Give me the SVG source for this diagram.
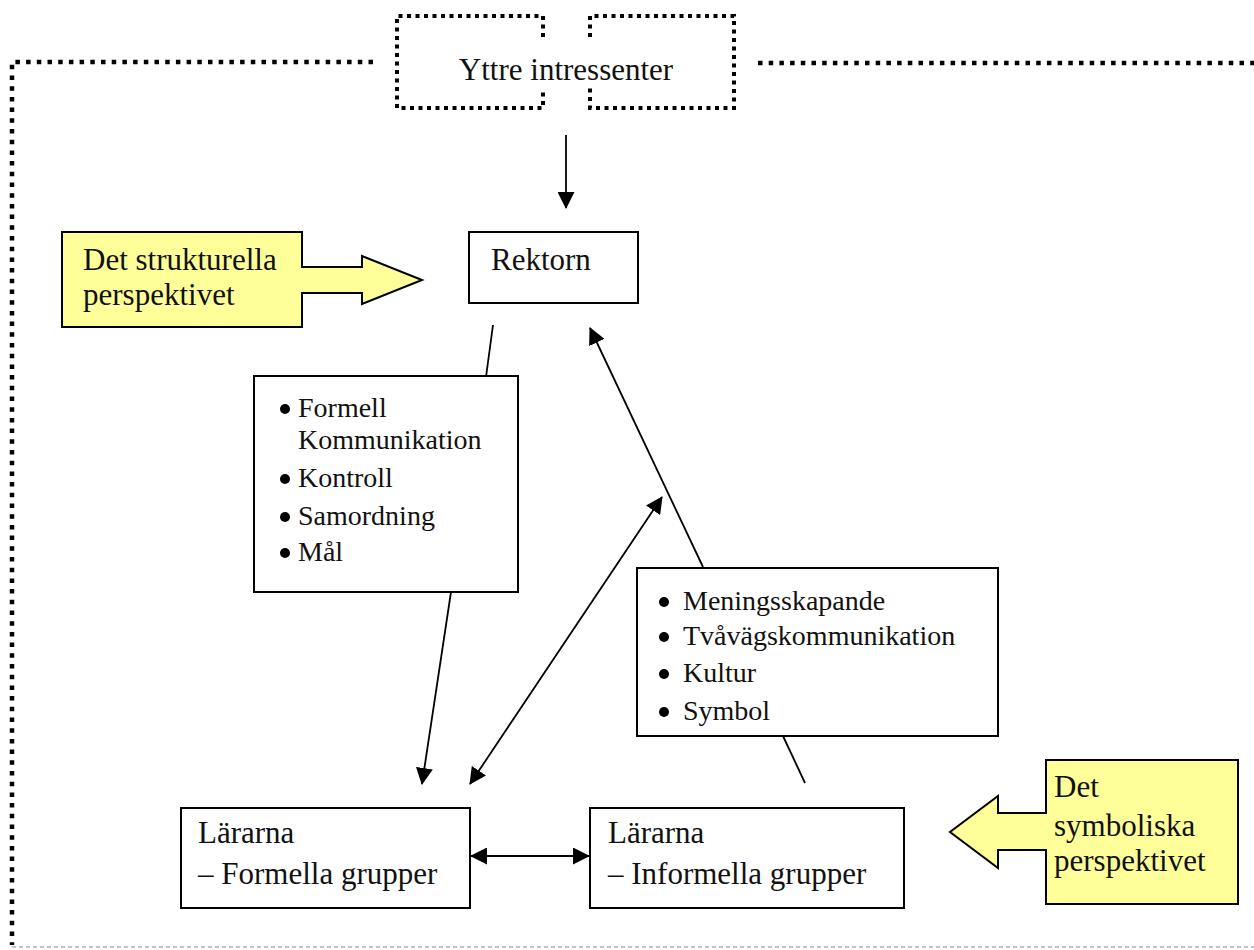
<svg xmlns="http://www.w3.org/2000/svg" width="1254" height="950" viewBox="0 0 1254 950">
<defs>
<style>
text{font-family:"Liberation Serif","Times New Roman",serif;fill:#111;}
.lbl{font-size:31px;}
.bul{font-size:28px;}
.box{fill:#fff;stroke:#000;stroke-width:2;}
.yel{fill:#ffff99;stroke:#000;stroke-width:2;stroke-linejoin:miter;}
.dot{fill:none;stroke:#000;stroke-width:4.5;stroke-dasharray:4.5 6.2;}
.dot2{fill:none;stroke:#000;stroke-width:4;stroke-dasharray:4 4.5;}
.con{fill:none;stroke:#000;stroke-width:1.8;}
</style>
<marker id="ah" markerWidth="17" markerHeight="17" refX="16" refY="8.5" orient="auto-start-reverse" markerUnits="userSpaceOnUse"><path d="M0,0 L17,8.5 L0,17 z" fill="#000"/></marker>
</defs>
<rect width="1254" height="950" fill="#fff"/>

<g id="boundary">
<path class="dot" d="M373,62 H12 V945"/>
<path class="dot" d="M758,63 H1254"/>
<line x1="12" y1="947" x2="1254" y2="947" stroke="#888" stroke-width="1.2" stroke-dasharray="4 3"/>
</g>

<g id="yttre">
<path class="dot2" d="M543,37 V16 H397 V108 H543 V88"/>
<path class="dot2" d="M590,37 V16 H734 V108 H590 V88"/>
<text class="lbl" x="566" y="80" text-anchor="middle">Yttre intressenter</text>
</g>

<g id="connectors">
<line class="con" x1="566" y1="135" x2="566" y2="208" marker-end="url(#ah)"/>
<line class="con" x1="493" y1="325" x2="486" y2="377"/>
<line class="con" x1="451" y1="592" x2="422" y2="784" marker-end="url(#ah)"/>
<line class="con" x1="470" y1="784" x2="662" y2="497" marker-start="url(#ah)" marker-end="url(#ah)"/>
<line class="con" x1="703" y1="567" x2="590" y2="328" marker-end="url(#ah)"/>
<line class="con" x1="783" y1="736" x2="805" y2="783"/>
<line class="con" x1="471" y1="856" x2="589" y2="856" marker-start="url(#ah)" marker-end="url(#ah)"/>
</g>

<g id="rektorn">
<rect class="box" x="469" y="232" width="169" height="71"/>
<text class="lbl" x="491" y="270">Rektorn</text>
</g>

<g id="strukturella">
<path class="yel" d="M62,232 H302 V267 H362 V256 L422,280 L362,304 V293 H302 V327 H62 Z"/>
<text class="lbl" x="83" y="270">Det strukturella</text>
<text class="lbl" x="83" y="305">perspektivet</text>
</g>

<g id="formell-lista">
<rect class="box" x="254" y="376" width="264" height="216"/>
<circle cx="285" cy="409" r="5" fill="#000"/>
<text class="bul" x="298" y="417">Formell</text>
<text class="bul" x="298" y="449">Kommunikation</text>
<circle cx="285" cy="479" r="5" fill="#000"/>
<text class="bul" x="298" y="487">Kontroll</text>
<circle cx="285" cy="517" r="5" fill="#000"/>
<text class="bul" x="298" y="525">Samordning</text>
<circle cx="285" cy="553" r="5" fill="#000"/>
<text class="bul" x="298" y="561">Mål</text>
</g>

<g id="symbolisk-lista">
<rect class="box" x="637" y="568" width="361" height="168"/>
<circle cx="664" cy="602" r="5" fill="#000"/>
<text class="bul" x="683" y="610">Meningsskapande</text>
<circle cx="664" cy="637" r="5" fill="#000"/>
<text class="bul" x="683" y="645">Tvåvägskommunikation</text>
<circle cx="664" cy="674" r="5" fill="#000"/>
<text class="bul" x="683" y="682">Kultur</text>
<circle cx="664" cy="712" r="5" fill="#000"/>
<text class="bul" x="683" y="720">Symbol</text>
</g>

<g id="formella-grupper">
<rect class="box" x="181" y="808" width="289" height="100"/>
<text class="lbl" x="198" y="843">Lärarna</text>
<text class="lbl" x="198" y="884">– Formella grupper</text>
</g>

<g id="informella-grupper">
<rect class="box" x="590" y="808" width="314" height="100"/>
<text class="lbl" x="608" y="843">Lärarna</text>
<text class="lbl" x="608" y="884">– Informella grupper</text>
</g>

<g id="symboliska">
<path class="yel" d="M1046,760 H1238 V904 H1046 V850 H998 V868 L950,832 L998,796 V813 H1046 Z"/>
<text class="lbl" x="1054" y="797">Det</text>
<text class="lbl" x="1054" y="836">symboliska</text>
<text class="lbl" x="1054" y="871">perspektivet</text>
</g>
</svg>
